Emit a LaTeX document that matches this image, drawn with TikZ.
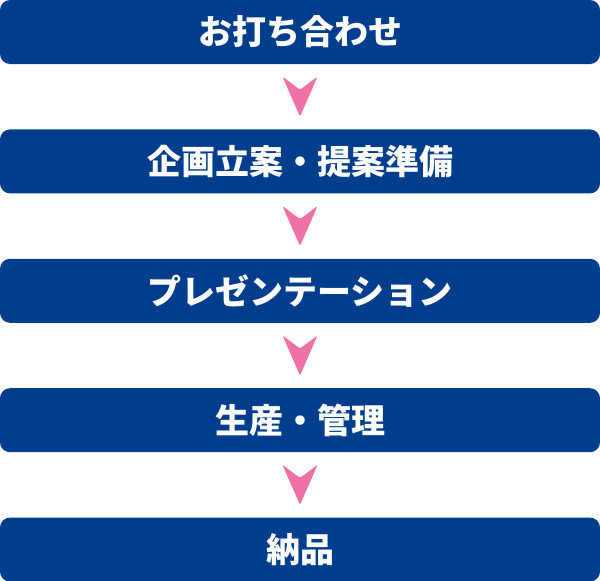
\documentclass[tikz,border=0pt]{standalone}
\usepackage{fontspec}
\newfontfamily\jpfont{Noto Sans CJK JP}
\usepackage{xcolor}
\usepackage{tikz}
\usetikzlibrary{positioning, calc}

\definecolor{flowblue}{RGB}{0,61,140}
\definecolor{flowpink}{RGB}{238,112,166}

\begin{document}
\begin{tikzpicture}[
    node distance=65pt,
    stage/.style={rectangle, rounded corners=10pt, fill=flowblue,
                  minimum width=600pt, minimum height=64pt, inner sep=0pt,
                  text=white, font=\jpfont\bfseries\fontsize{34pt}{40pt}\selectfont},
    chevron/.pic={\fill[flowpink, rounded corners=1.5pt]
                  (-17.5pt,20pt) -- (0,7pt) -- (17.5pt,20pt) -- (0,-20pt) -- cycle;}
]
    \useasboundingbox (0,0) rectangle (600pt,-581pt);

    \node[stage] (meet) at (300pt,-32pt) {お打ち合わせ};
    \node[stage, below=of meet] (plan) {企画立案・提案準備};
    \node[stage, below=of plan] (present) {プレゼンテーション};
    \node[stage, below=of present] (produce) {生産・管理};
    \node[stage, below=of produce] (deliver) {納品};

    % pink chevrons between the steps
    \path ($(meet.south)!0.5!(plan.north)$) pic {chevron};
    \path ($(plan.south)!0.5!(present.north)$) pic {chevron};
    \path ($(present.south)!0.5!(produce.north)$) pic {chevron};
    \path ($(produce.south)!0.5!(deliver.north)$) pic {chevron};
\end{tikzpicture}
\end{document}
